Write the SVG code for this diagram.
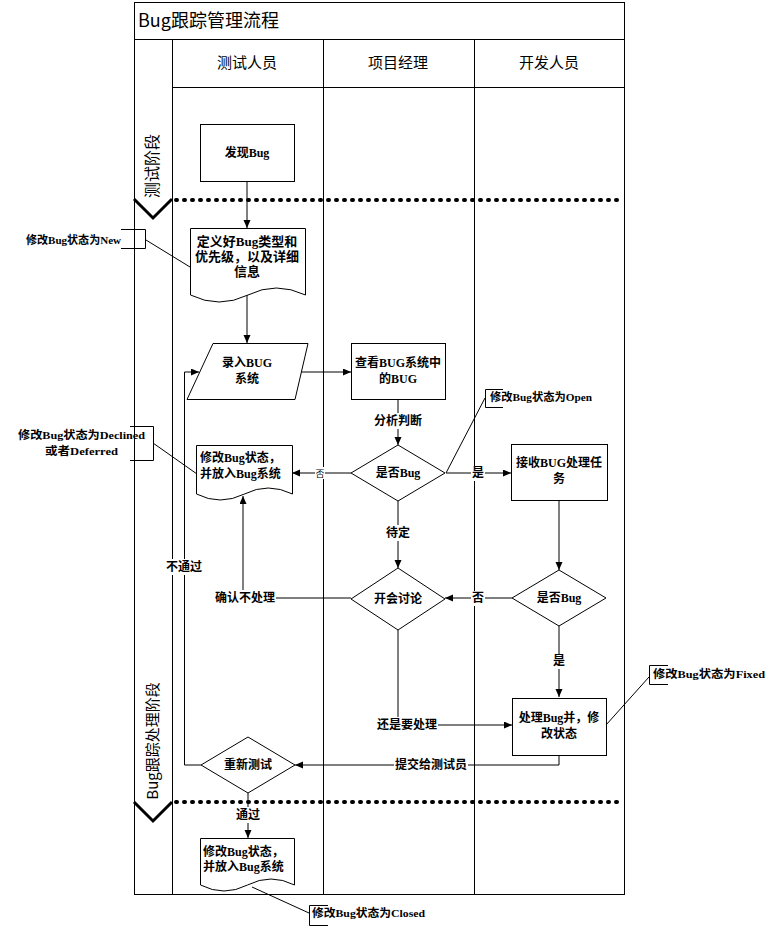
<svg xmlns="http://www.w3.org/2000/svg" width="770" height="928" viewBox="0 0 770 928">
<style>
.ln{fill:none;stroke:#000;stroke-width:1}
.shp{fill:#fff;stroke:#000;stroke-width:1}
.hd{font-family:"Noto Sans CJK SC","Liberation Sans",sans-serif;font-size:15px;fill:#000}
.nt{font-family:"Liberation Serif","Noto Sans CJK SC",serif;font-size:12px;font-weight:bold;fill:#000}
.lb{font-family:"Liberation Serif","Noto Sans CJK SC",serif;font-size:12px;font-weight:bold;fill:#000}
.co{font-family:"Liberation Serif","Noto Sans CJK SC",serif;font-size:11px;font-weight:bold;fill:#000}
.dot{fill:none;stroke:#000;stroke-width:4;stroke-dasharray:1 7;stroke-linecap:round}
.chev{fill:none;stroke:#000;stroke-width:3}
.bg{fill:#fff}
</style>
<defs>
<marker id="ah" markerUnits="userSpaceOnUse" markerWidth="9" markerHeight="8" refX="8" refY="3.5" orient="auto">
<path d="M0,0 L8,3.5 L0,7 Z" fill="#000"/>
</marker>
</defs>
<rect width="770" height="928" fill="#fff"/>

<g id="frame">
<rect x="134.5" y="2.5" width="490" height="892" class="ln"/>
<line x1="134" y1="39.5" x2="624" y2="39.5" class="ln"/>
<line x1="172" y1="87.5" x2="624" y2="87.5" class="ln"/>
<line x1="172.5" y1="39" x2="172.5" y2="895" class="ln"/>
<line x1="323.5" y1="39" x2="323.5" y2="895" class="ln"/>
<line x1="474.5" y1="39" x2="474.5" y2="895" class="ln"/>
<text x="138" y="27" class="hd" style="font-size:18px">Bug跟踪管理流程</text>
<text x="247" y="68" class="hd" text-anchor="middle">测试人员</text>
<text x="398" y="68" class="hd" text-anchor="middle">项目经理</text>
<text x="549" y="68" class="hd" text-anchor="middle">开发人员</text>
</g>

<g id="phase-test">
<text transform="translate(158,166) rotate(-90)" class="hd" text-anchor="middle" style="font-size:16px">测试阶段</text>
<polyline points="134,199 153,218 172,199" class="chev"/>
<line x1="176" y1="200" x2="624" y2="200" class="dot"/>
</g>
<g id="phase-fix">
<text transform="translate(158,741) rotate(-90)" class="hd" text-anchor="middle">Bug跟踪处理阶段</text>
<polyline points="134,802 153,821 172,802" class="chev"/>
<line x1="176" y1="802" x2="624" y2="802" class="dot"/>
</g>

<g id="connectors">
<line x1="247" y1="182" x2="247" y2="228" class="ln" marker-end="url(#ah)"/>
<line x1="247" y1="295" x2="247" y2="343" class="ln" marker-end="url(#ah)"/>
<line x1="301" y1="372" x2="351" y2="372" class="ln" marker-end="url(#ah)"/>
<polyline points="201,765 184.5,765 184.5,372 199,372" class="ln" marker-end="url(#ah)"/>
<line x1="398" y1="399" x2="398" y2="445" class="ln" marker-end="url(#ah)"/>
<line x1="351" y1="473" x2="292" y2="473" class="ln" marker-end="url(#ah)"/>
<line x1="446" y1="473" x2="511" y2="473" class="ln" marker-end="url(#ah)"/>
<line x1="398" y1="501" x2="398" y2="568" class="ln" marker-end="url(#ah)"/>
<line x1="559" y1="500" x2="559" y2="570" class="ln" marker-end="url(#ah)"/>
<line x1="512" y1="598" x2="445" y2="598" class="ln" marker-end="url(#ah)"/>
<polyline points="351,598 243,598 243,496" class="ln" marker-end="url(#ah)"/>
<line x1="559" y1="626" x2="559" y2="697" class="ln" marker-end="url(#ah)"/>
<polyline points="398,630 398,725 512,725" class="ln" marker-end="url(#ah)"/>
<polyline points="559,755 559,765 295,765" class="ln" marker-end="url(#ah)"/>
<line x1="248" y1="793" x2="248" y2="838" class="ln" marker-end="url(#ah)"/>

<rect x="373" y="413" width="50" height="16" class="bg"/>
<text x="398" y="425" class="lb" text-anchor="middle">分析判断</text>
<rect x="315" y="467" width="10" height="12" class="bg"/>
<text x="320" y="477" class="lb" text-anchor="middle" style="font-size:9px;font-weight:normal">否</text>
<rect x="471" y="466" width="14" height="15" class="bg"/>
<text x="478" y="477" class="lb" text-anchor="middle">是</text>
<rect x="385" y="525" width="26" height="16" class="bg"/>
<text x="398" y="537" class="lb" text-anchor="middle">待定</text>
<rect x="471" y="591" width="14" height="15" class="bg"/>
<text x="478" y="602" class="lb" text-anchor="middle">否</text>
<rect x="214" y="590" width="62" height="16" class="bg"/>
<text x="245" y="602" class="lb" text-anchor="middle">确认不处理</text>
<rect x="166" y="559" width="37" height="16" class="bg"/>
<text x="184" y="571" class="lb" text-anchor="middle">不通过</text>
<rect x="551" y="654" width="15" height="15" class="bg"/>
<text x="559" y="665" class="lb" text-anchor="middle">是</text>
<rect x="376" y="717" width="62" height="16" class="bg"/>
<text x="407" y="729" class="lb" text-anchor="middle">还是要处理</text>
<rect x="394" y="757" width="74" height="16" class="bg"/>
<text x="431" y="769" class="lb" text-anchor="middle">提交给测试员</text>
<rect x="235" y="807" width="26" height="16" class="bg"/>
<text x="248" y="819" class="lb" text-anchor="middle">通过</text>
</g>

<g id="n-find">
<rect x="200.5" y="124.5" width="94" height="57" class="shp"/>
<text x="247" y="157" class="nt" text-anchor="middle">发现Bug</text>
</g>

<g id="n-define">
<path d="M190.5,228.5 H305.5 V295 Q276,281 248,295 Q219,309 190.5,295 Z" class="shp"/>
<text x="247" y="246" class="nt" text-anchor="middle" style="font-size:13px">定义好Bug类型和</text>
<text x="247" y="261" class="nt" text-anchor="middle" style="font-size:13px">优先级，以及详细</text>
<text x="247" y="276" class="nt" text-anchor="middle" style="font-size:13px">信息</text>
</g>
<g id="c-new">
<path d="M121,229.5 H145.5 V248.5 H121" class="ln"/>
<line x1="146" y1="240" x2="190" y2="267" class="ln"/>
<text x="26" y="244" class="co" textLength="95" lengthAdjust="spacingAndGlyphs">修改Bug状态为New</text>
</g>

<g id="n-enter">
<polygon points="213,343.5 308,343.5 295,399.5 187,399.5" class="shp"/>
<text x="247" y="367" class="nt" text-anchor="middle">录入BUG</text>
<text x="247" y="383" class="nt" text-anchor="middle">系统</text>
</g>

<g id="n-view">
<rect x="351.5" y="343.5" width="94" height="56" class="shp"/>
<text x="398" y="367" class="nt" text-anchor="middle">查看BUG系统中</text>
<text x="398" y="383" class="nt" text-anchor="middle">的BUG</text>
</g>

<g id="n-isbug1">
<polygon points="398,445 445,473 398,501 351,473" class="shp"/>
<text x="398" y="477" class="nt" text-anchor="middle">是否Bug</text>
</g>
<g id="c-open">
<path d="M503,389.5 H485.5 V407.5 H503" class="ln"/>
<line x1="485" y1="398" x2="446" y2="473" class="ln"/>
<text x="490" y="401" class="co" textLength="102" lengthAdjust="spacingAndGlyphs">修改Bug状态为Open</text>
</g>

<g id="n-mark1">
<path d="M196.5,445.5 H292.5 V494 Q268,482 244.5,494 Q220,506 196.5,494 Z" class="shp"/>
<text x="200" y="462" class="nt">修改Bug状态，</text>
<text x="200" y="478" class="nt">并放入Bug系统</text>
</g>
<g id="c-declined">
<path d="M130,426.5 H153.5 V460.5 H130" class="ln"/>
<line x1="153" y1="443" x2="197" y2="474" class="ln"/>
<text x="18" y="439" class="co" textLength="127" lengthAdjust="spacingAndGlyphs">修改Bug状态为Declined</text>
<text x="45" y="455" class="co" textLength="73" lengthAdjust="spacingAndGlyphs">或者Deferred</text>
</g>

<g id="n-receive">
<rect x="511.5" y="444.5" width="96" height="56" class="shp"/>
<text x="559" y="467" class="nt" text-anchor="middle">接收BUG处理任</text>
<text x="559" y="483" class="nt" text-anchor="middle">务</text>
</g>

<g id="n-isbug2">
<polygon points="559,570 606,598 559,626 512,598" class="shp"/>
<text x="559" y="602" class="nt" text-anchor="middle">是否Bug</text>
</g>

<g id="n-meeting">
<polygon points="398,568 445,599 398,630 351,599" class="shp"/>
<text x="398" y="603" class="nt" text-anchor="middle">开会讨论</text>
</g>

<g id="n-fix">
<rect x="512.5" y="698.5" width="94" height="57" class="shp"/>
<text x="559" y="722" class="nt" text-anchor="middle">处理Bug并，修</text>
<text x="559" y="738" class="nt" text-anchor="middle">改状态</text>
</g>
<g id="c-fixed">
<path d="M668,665.5 H649.5 V684.5 H668" class="ln"/>
<line x1="649" y1="677" x2="606" y2="725" class="ln"/>
<text x="653" y="678" class="co" textLength="112" lengthAdjust="spacingAndGlyphs">修改Bug状态为Fixed</text>
</g>

<g id="n-retest">
<polygon points="248,737 295,765 248,793 201,765" class="shp"/>
<text x="248" y="769" class="nt" text-anchor="middle">重新测试</text>
</g>

<g id="n-mark2">
<path d="M200.5,838.5 H294.5 V885 Q271,873 247.5,885 Q224,897 200.5,885 Z" class="shp"/>
<text x="203" y="856" class="nt">修改Bug状态，</text>
<text x="203" y="871" class="nt">并放入Bug系统</text>
</g>
<g id="c-closed">
<path d="M328,905.5 H309.5 V925.5 H328" class="ln"/>
<line x1="309" y1="913" x2="252" y2="887" class="ln"/>
<text x="312" y="917" class="co" textLength="113" lengthAdjust="spacingAndGlyphs">修改Bug状态为Closed</text>
</g>
</svg>
